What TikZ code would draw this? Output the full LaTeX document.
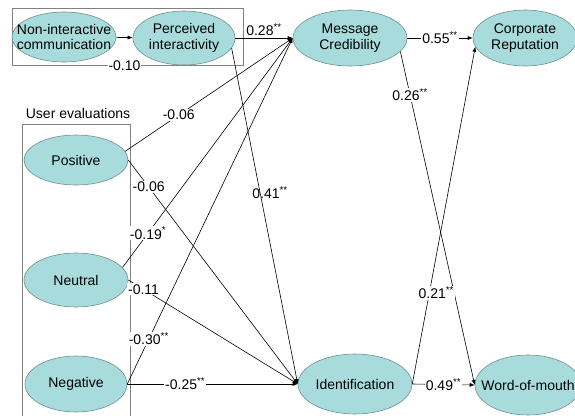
\documentclass[tikz,border=0pt]{standalone}
\usepackage{fontspec}
\setmainfont{Liberation Sans}
\usetikzlibrary{shapes.geometric,arrows.meta}
\definecolor{var}{HTML}{A8DCDC}
\definecolor{varline}{HTML}{6F8F8F}
\newcommand\sig[1]{\textsuperscript{#1}}
\tikzset{
  >={Latex[length=5pt,width=4pt]},
  lv/.style={ellipse,draw=varline,fill=var,inner xsep=-12pt,inner ysep=-6pt,
    align=center,font=\fontsize{14}{15.5}\selectfont},
  coef/.style={fill=white,inner sep=1pt,font=\fontsize{14}{16}\selectfont},
  frame/.style={draw=gray,line width=0.5pt},
}

\begin{document}
\begin{tikzpicture}[x=1pt,y=-1pt,line width=0.6pt]
        \useasboundingbox (0,0) rectangle (575,415);

        \draw[frame] (12,8) rectangle (243,65);
        \draw[frame] (22,416) |- (130,124) -- (130,416);
        \path (78,113) node[font=\fontsize{14}{16}\selectfont] (UE) {User evaluations};

        \path
        (64,37) node[lv,minimum width=104pt,minimum height=50pt] (NI) {Non-interactive\\communication}
        (184,38) node[lv,minimum width=102pt,minimum height=54pt] (PI) {Perceived\\interactivity}
        (350,38) node[lv,minimum width=114pt,minimum height=56pt] (MC) {Message\\Credibility}
        (525,38) node[lv,minimum width=104pt,minimum height=56pt] (CR) {Corporate\\Reputation}
        ;

        \path
        (76,160) node[lv,minimum width=104pt,minimum height=50pt] (Pos) {Positive}
        (76,280) node[lv,minimum width=104pt,minimum height=54pt] (Neu) {Neutral}
        (76,384) node[lv,minimum width=102pt,minimum height=56pt] (Neg) {Negative}
        ;

        \path
        (355,384) node[lv,minimum width=114pt,minimum height=60pt] (Id) {Identification}
        (528,385) node[lv,minimum width=106pt,minimum height=60pt] (WoM) {Word-of-mouth}
        ;

        \draw[->] (NI) -- node[coef,below=22pt] {-0.10} (PI);
        \draw[->] (PI.east) -- node[above,inner sep=2pt,font=\fontsize{14}{16}\selectfont] {0.28\sig{**}} (MC.west);
        \draw[->] (PI.-12) -- node[pos=0.43,xshift=10pt,inner sep=0pt,font=\fontsize{14}{16}\selectfont] {0.41\sig{**}} (Id.west);

        \draw[->] (Pos.10) -- node[coef,pos=0.32] {-0.06} (MC.west);
        \draw[->] (Pos.east) -- node[coef,pos=0.12] {-0.06} (Id.west);
        \draw[->] (Neu.15) -- node[coef,pos=0.15] {-0.19\sig{*}} (MC.west);
        \draw[->] (Neu.east) -- node[coef,pos=0.09] {-0.11} (Id.west);
        \draw[->] (Neg.east) -- node[coef,pos=0.13] {-0.30\sig{**}} (MC.west);
        \draw[->] (Neg.east) -- node[coef,pos=0.34] {-0.25\sig{**}} (Id.west);

        \draw[->] (MC.east) -- node[coef] {0.55\sig{**}} (CR.west);
        \draw[->] (MC.-15) -- node[coef,pos=0.13] {0.26\sig{**}} (WoM.west);
        \draw[->] (Id.east) -- node[coef,pos=0.27,xshift=7pt] {0.21\sig{**}} (CR.190);
        \draw[->] (Id.east) -- node[coef] {0.49\sig{**}} (WoM.west);
      \end{tikzpicture}
\end{document}
